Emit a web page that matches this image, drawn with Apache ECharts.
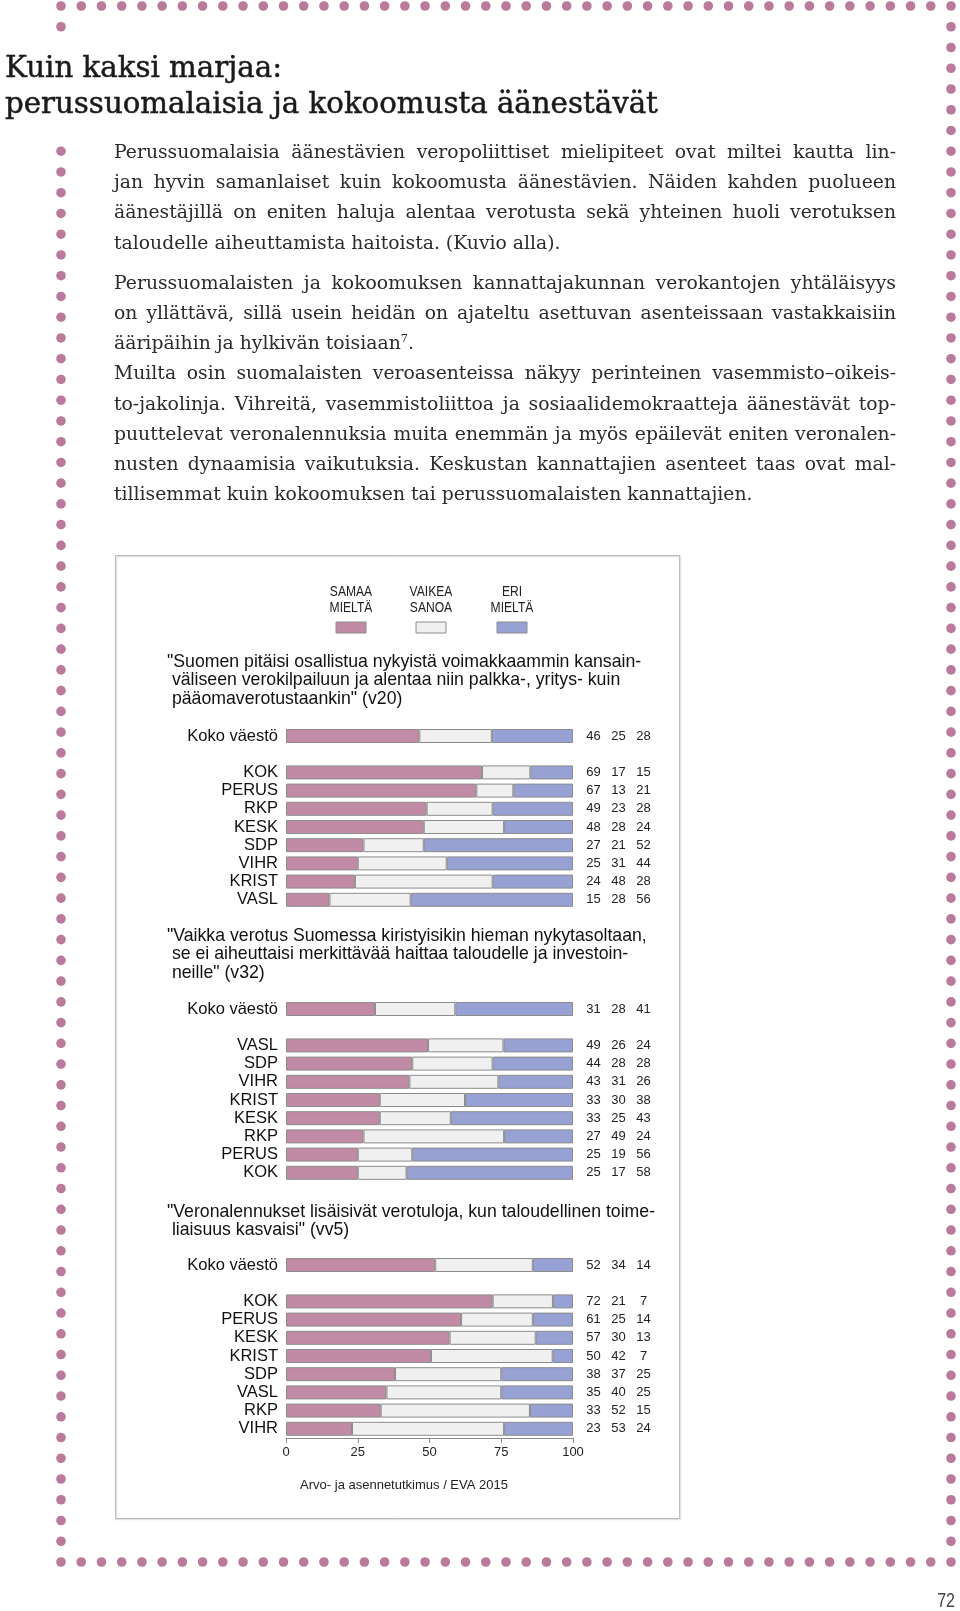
<!DOCTYPE html>
<html><head><meta charset="utf-8">
<script src="https://cdn.jsdelivr.net/npm/echarts@6.0.0/dist/echarts.min.js"></script>
<style>
html,body{margin:0;padding:0;background:#fff;}
#page{position:relative;width:960px;height:1611px;overflow:hidden;}
#chart{position:absolute;left:0;top:0;width:960px;height:1611px;}
#heading{position:absolute;left:5px;top:49px;font-family:"DejaVu Serif",serif;font-size:29px;line-height:36px;color:#1a1a1a;white-space:nowrap;-webkit-text-stroke:0.5px #1a1a1a;}
#heading span{display:inline-block;}
#body{position:absolute;left:114px;top:137px;width:782px;font-family:"DejaVu Serif",serif;font-size:17px;line-height:30.2px;color:#2b2b2b;}
.l{text-align:justify;text-align-last:justify;}
.e{text-align:left;text-align-last:left;}
.gap{margin-top:10px;}
sup{font-size:60%;line-height:0;vertical-align:super;}
</style>
</head><body>
<div id="page">
<div id="chart"></div>
<div id="heading"><span>Kuin kaksi marjaa:</span><br><span id="h2">perussuomalaisia ja kokoomusta äänestävät</span></div>
<div id="body">
<div class="l">Perussuomalaisia äänestävien veropoliittiset mielipiteet ovat miltei kautta lin-</div>
<div class="l">jan hyvin samanlaiset kuin kokoomusta äänestävien. Näiden kahden puolueen</div>
<div class="l">äänestäjillä on eniten haluja alentaa verotusta sekä yhteinen huoli verotuksen</div>
<div class="e">taloudelle aiheuttamista haitoista. (Kuvio alla).</div>
<div class="l gap">Perussuomalaisten ja kokoomuksen kannattajakunnan verokantojen yhtäläisyys</div>
<div class="l">on yllättävä, sillä usein heidän on ajateltu asettuvan asenteissaan vastakkaisiin</div>
<div class="e">ääripäihin ja hylkivän toisiaan<sup>7</sup>.</div>
<div class="l">Muilta osin suomalaisten veroasenteissa näkyy perinteinen vasemmisto–oikeis-</div>
<div class="l">to-jakolinja. Vihreitä, vasemmistoliittoa ja sosiaalidemokraatteja äänestävät top-</div>
<div class="l">puuttelevat veronalennuksia muita enemmän ja myös epäilevät eniten veronalen-</div>
<div class="l">nusten dynaamisia vaikutuksia. Keskustan kannattajien asenteet taas ovat mal-</div>
<div class="e">tillisemmat kuin kokoomuksen tai perussuomalaisten kannattajien.</div>
</div>
</div>
<script>
// ---------------- data ----------------
const legendLabels = ['SAMAA\nMIELTÄ', 'VAIKEA\nSANOA', 'ERI\nMIELTÄ'];
const xTickValues = [0, 25, 50, 75, 100];

const q1Title = '"Suomen pitäisi osallistua nykyistä voimakkaammin kansain-\n väliseen verokilpailuun ja alentaa niin palkka-, yritys- kuin\n pääomaverotustaankin" (v20)';
const q1Cats = ['Koko väestö', '', 'KOK', 'PERUS', 'RKP', 'KESK', 'SDP', 'VIHR', 'KRIST', 'VASL'];
const q1Samaa = [46, null, 69, 67, 49, 48, 27, 25, 24, 15];
const q1Vaikea = [25, null, 17, 13, 23, 28, 21, 31, 48, 28];
const q1Eri = [28, null, 15, 21, 28, 24, 52, 44, 28, 56];

const q2Title = '"Vaikka verotus Suomessa kiristyisikin hieman nykytasoltaan,\n se ei aiheuttaisi merkittävää haittaa taloudelle ja investoin-\n neille" (v32)';
const q2Cats = ['Koko väestö', '', 'VASL', 'SDP', 'VIHR', 'KRIST', 'KESK', 'RKP', 'PERUS', 'KOK'];
const q2Samaa = [31, null, 49, 44, 43, 33, 33, 27, 25, 25];
const q2Vaikea = [28, null, 26, 28, 31, 30, 25, 49, 19, 17];
const q2Eri = [41, null, 24, 28, 26, 38, 43, 24, 56, 58];

const q3Title = '"Veronalennukset lisäisivät verotuloja, kun taloudellinen toime-\n liaisuus kasvaisi" (vv5)';
const q3Cats = ['Koko väestö', '', 'KOK', 'PERUS', 'KESK', 'KRIST', 'SDP', 'VASL', 'RKP', 'VIHR'];
const q3Samaa = [52, null, 72, 61, 57, 50, 38, 35, 33, 23];
const q3Vaikea = [34, null, 21, 25, 30, 42, 37, 40, 52, 53];
const q3Eri = [14, null, 7, 14, 13, 7, 25, 25, 15, 24];

const sourceText = 'Arvo- ja asennetutkimus / EVA 2015';
const pageNumber = '72';

// ---------------- fit page text fonts ----------------
(function fitText() {
  const h2 = document.getElementById('h2');
  const hw = h2.getBoundingClientRect().width;
  document.getElementById('heading').style.fontSize = (29 * 653 / hw) + 'px';
  const lines = Array.from(document.querySelectorAll('#body > div.l'));
  let maxW = 0;
  lines.forEach(d => {
    const s = document.createElement('span');
    s.style.whiteSpace = 'nowrap';
    s.style.position = 'absolute';
    s.style.left = '0';
    s.style.top = '0';
    s.style.visibility = 'hidden';
    s.innerHTML = d.innerHTML;
    document.getElementById('body').appendChild(s);
    maxW = Math.max(maxW, s.getBoundingClientRect().width);
    s.remove();
  });
  document.getElementById('body').style.fontSize = (17 * 776 / maxW) + 'px';
})();

// ---------------- layout / style ----------------
const colors = ['#c18aa5', '#f0f0f0', '#98a1d4'];
const edge = '#8c8c8c';
const sans = '"Liberation Sans", Arial, sans-serif';
const rowH = 18.2;
const kokoCenters = [736, 1009, 1265];
const titleFirstLine = [662, 936, 1212];
const titleLH = 18.5;
const plotLeft = 286, plotWidth = 287;

const questions = [
  {title: q1Title, cats: q1Cats, s: q1Samaa, v: q1Vaikea, e: q1Eri},
  {title: q2Title, cats: q2Cats, s: q2Samaa, v: q2Vaikea, e: q2Eri},
  {title: q3Title, cats: q3Cats, s: q3Samaa, v: q3Vaikea, e: q3Eri}
];

const grids = [], xAxes = [], yAxes = [], series = [], titles = [];
questions.forEach((q, i) => {
  const n = q.cats.length;
  grids.push({left: plotLeft, width: plotWidth, top: kokoCenters[i] - rowH / 2, height: rowH * n, containLabel: false});
  const last = i === questions.length - 1;
  xAxes.push({
    type: 'value', gridIndex: i, min: 0, max: 100, interval: 25,
    show: last,
    splitLine: {show: false},
    axisLine: {show: last, lineStyle: {color: '#8a8a8a', width: 1}},
    axisTick: {show: last, length: 5, lineStyle: {color: '#8a8a8a'}},
    axisLabel: {show: last, margin: 8, fontSize: 13, color: '#222', fontFamily: sans,
      customValues: xTickValues}
  });
  yAxes.push({
    type: 'category', gridIndex: i, data: q.cats, inverse: true,
    axisLine: {show: false}, axisTick: {show: false}, splitLine: {show: false},
    axisLabel: {interval: 0, margin: 8, fontSize: 16.5, color: '#111', fontFamily: sans}
  });
  const tot = q.s.map((x, k) => x == null ? null : x + q.v[k] + q.e[k]);
  const norm = arr => arr.map((x, k) => x == null ? '-' : x / tot[k] * 100);
  [q.s, q.v, q.e].forEach((arr, j) => {
    series.push({
      type: 'bar', xAxisIndex: i, yAxisIndex: i, stack: 'st' + i, barWidth: 14,
      data: norm(arr), silent: true,
      itemStyle: {color: colors[j], borderColor: edge, borderWidth: 1},
      label: j === 2 ? {
        show: true, position: 'right', distance: 8,
        formatter: p => '{n|' + q.s[p.dataIndex] + '}{n|' + q.v[p.dataIndex] + '}{n|' + q.e[p.dataIndex] + '}',
        rich: {n: {width: 25, align: 'center', fontSize: 13, color: '#222', fontFamily: sans}}
      } : {show: false}
    });
  });
  titles.push({
    text: q.title, left: 167, top: titleFirstLine[i] - titleLH / 2, padding: 0,
    textStyle: {fontSize: 17.7, fontWeight: 'normal', color: '#111', fontFamily: sans, lineHeight: titleLH}
  });
});

// graphics: page dots, box, legend, source, page number
const graphic = [];
const dotColor = '#b97a9b';
const dX0 = 61, dX1 = 951, dY0 = 6, dY1 = 1562;
const nH = 44, nV = 75;
for (let k = 0; k <= nH; k++) {
  const x = dX0 + (dX1 - dX0) * k / nH;
  graphic.push({type: 'circle', shape: {cx: x, cy: dY0, r: 4.8}, style: {fill: dotColor}, silent: true});
  graphic.push({type: 'circle', shape: {cx: x, cy: dY1, r: 4.8}, style: {fill: dotColor}, silent: true});
}
for (let k = 1; k < nV; k++) {
  const y = dY0 + (dY1 - dY0) * k / nV;
  graphic.push({type: 'circle', shape: {cx: dX1, cy: y, r: 4.8}, style: {fill: dotColor}, silent: true});
  if (k === 1 || k >= 7) graphic.push({type: 'circle', shape: {cx: dX0, cy: y, r: 4.8}, style: {fill: dotColor}, silent: true});
}
// chart frame
graphic.push({type: 'rect', shape: {x: 116.5, y: 556.5, width: 564, height: 963}, style: {fill: 'none', stroke: '#e2e2e2', lineWidth: 1.5}, silent: true});
graphic.push({type: 'rect', shape: {x: 115.5, y: 555.5, width: 564, height: 963}, style: {fill: 'none', stroke: '#bcbcbc', lineWidth: 1}, silent: true});
// legend (narrow sans: Liberation Sans compressed horizontally)
const legendCx = [351, 431, 512];
legendLabels.forEach((t, j) => {
  graphic.push({type: 'text', x: legendCx[j], y: 600, scaleX: 0.78, silent: true,
    style: {text: t, align: 'center', verticalAlign: 'middle', fontSize: 15.5, lineHeight: 16, fill: '#222', fontFamily: sans}});
  graphic.push({type: 'rect', shape: {x: legendCx[j] - 15, y: 622, width: 30, height: 11}, silent: true,
    style: {fill: colors[j], stroke: edge, lineWidth: 1}});
});
graphic.push({type: 'text', x: 404, y: 1485, silent: true,
  style: {text: sourceText, align: 'center', verticalAlign: 'middle', fontSize: 13, fill: '#222', fontFamily: sans}});
graphic.push({type: 'text', x: 955, y: 1601, scaleX: 0.8, silent: true,
  style: {text: pageNumber, align: 'right', verticalAlign: 'middle', fontSize: 20, fill: '#444', fontFamily: sans}});

const chart = echarts.init(document.getElementById('chart'), null, {renderer: 'canvas'});
chart.setOption({
  animation: false,
  backgroundColor: '#fff',
  title: titles,
  grid: grids,
  xAxis: xAxes,
  yAxis: yAxes,
  series: series,
  graphic: graphic
});
</script>
</body></html>
